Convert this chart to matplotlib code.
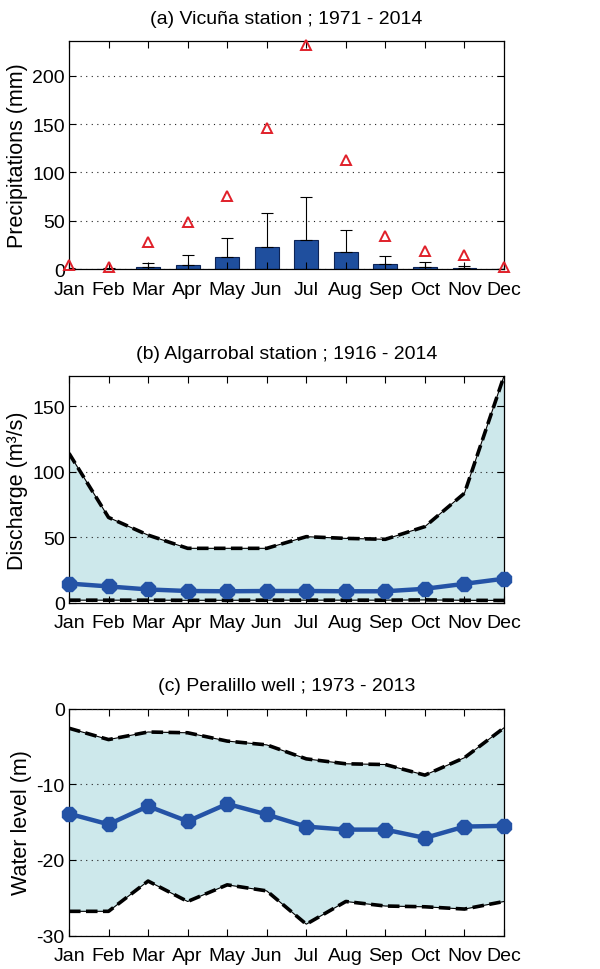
import matplotlib
matplotlib.use("Agg")
import matplotlib.pyplot as plt
import numpy as np

plt.rcParams['font.family'] = ['Liberation Sans', 'DejaVu Sans']
plt.rcParams['axes.unicode_minus'] = False

months = ['Jan', 'Feb', 'Mar', 'Apr', 'May', 'Jun', 'Jul', 'Aug', 'Sep', 'Oct', 'Nov', 'Dec']

# (a) Vicuña precipitation
precip_mean = [0.3, 0.2, 1.7, 4.5, 12.4, 22.8, 29.7, 17.6, 5.2, 2.4, 1.4, 0.1]
precip_std = [1.0, 0.5, 4.2, 10.0, 19.4, 34.9, 44.6, 22.8, 8.6, 4.5, 2.1, 0.3]
precip_max = [4.5, 2.0, 27.6, 49.0, 76.0, 146.5, 231.8, 113.3, 33.9, 18.3, 14.5, 2.2]

# (b) Algarrobal discharge
q_max = [114, 65, 51.5, 41.4, 41.4, 41.4, 50.3, 49, 48.3, 58, 83.5, 173]
q_mean = [14.5, 12.3, 10.0, 8.8, 8.6, 8.8, 8.8, 8.6, 8.6, 10.5, 14.3, 18.2]
q_min = [1.8, 1.8, 1.8, 1.7, 1.7, 1.8, 1.8, 1.8, 1.8, 2.0, 1.7, 1.6]

# (c) Peralillo well water level
w_max = [-2.6, -4.1, -3.1, -3.2, -4.3, -4.8, -6.65, -7.3, -7.4, -8.8, -6.5, -2.55]
w_mean = [-13.9, -15.3, -12.9, -14.9, -12.6, -14.0, -15.6, -16.0, -16.0, -17.1, -15.6, -15.5]
w_min = [-26.8, -26.8, -22.8, -25.5, -23.3, -24.1, -28.5, -25.5, -26.1, -26.2, -26.5, -25.5]

x = np.arange(1, 13)

FILL = '#cde8eb'
BLUE = '#2453a6'
BAR = '#1f4f9e'
FS = 14

fig = plt.figure(figsize=(6.0, 9.7), dpi=100)

def style(ax, ylim, yticks, ylabel, title, labx):
    ax.set_xlim(1, 12)
    ax.set_ylim(*ylim)
    ax.set_xticks(x)
    ax.set_xticklabels(months, fontsize=FS)
    ax.set_yticks(yticks)
    ax.tick_params(axis='y', labelsize=FS)
    ax.tick_params(direction='in', top=True, right=True, length=5, width=0.8, pad=3)
    ax.tick_params(axis='x', pad=8.5)
    for s in ax.spines.values():
        s.set_linewidth(0.9)
    ax.yaxis.grid(True, linestyle=(0, (1, 4)), color='#222222', linewidth=0.8)
    ax.set_axisbelow(False)
    ax.set_ylabel(ylabel, fontsize=15.5)
    ax.yaxis.set_label_coords(labx, 0.5)
    ax.set_title(title, fontsize=FS, pad=13)

def dashed(ax, y):
    ax.plot(x, y, color='black', lw=0.8, zorder=3)
    ax.plot(x, y, color='black', lw=2.6, dashes=(3.2, 1.5), zorder=3)

# Panel a
ax1 = fig.add_axes([0.115, 0.7216, 0.725, 0.235])
ax1.bar(x, precip_mean, width=0.6, color=BAR, edgecolor='#0d2456', linewidth=0.8, zorder=2)
ax1.errorbar(x, precip_mean, yerr=[np.zeros(12), precip_std], fmt='none',
             ecolor='black', elinewidth=0.8, capsize=4, capthick=0.8, zorder=3)
ax1.plot(x, precip_max, linestyle='none', marker='^', markersize=6.5,
         markerfacecolor='none', markeredgecolor='#e0202a', markeredgewidth=1.4,
         clip_on=False, zorder=4)
style(ax1, (0, 236), [0, 50, 100, 150, 200], 'Precipitations (mm)',
      '(a) Vicuña station ; 1971 - 2014', -0.095)

# Panel b
ax2 = fig.add_axes([0.115, 0.3778, 0.725, 0.2335])
ax2.fill_between(x, q_min, q_max, color=FILL, linewidth=0, zorder=1)
dashed(ax2, q_max)
dashed(ax2, q_min)
ax2.plot(x, q_mean, color=BLUE, lw=3.2, marker='8', markersize=11, clip_on=False, zorder=4)
style(ax2, (0, 173), [0, 50, 100, 150], 'Discharge (m³/s)',
      '(b) Algarrobal station ; 1916 - 2014', -0.095)

# Panel c
ax3 = fig.add_axes([0.115, 0.0345, 0.725, 0.234])
ax3.fill_between(x, w_min, w_max, color=FILL, linewidth=0, zorder=1)
dashed(ax3, w_max)
dashed(ax3, w_min)
ax3.plot(x, w_mean, color=BLUE, lw=3.2, marker='8', markersize=11, clip_on=False, zorder=4)
style(ax3, (-30, 0), [-30, -20, -10, 0], 'Water level (m)',
      '(c) Peralillo well ; 1973 - 2013', -0.085)

fig.savefig('out.png', dpi=100)
